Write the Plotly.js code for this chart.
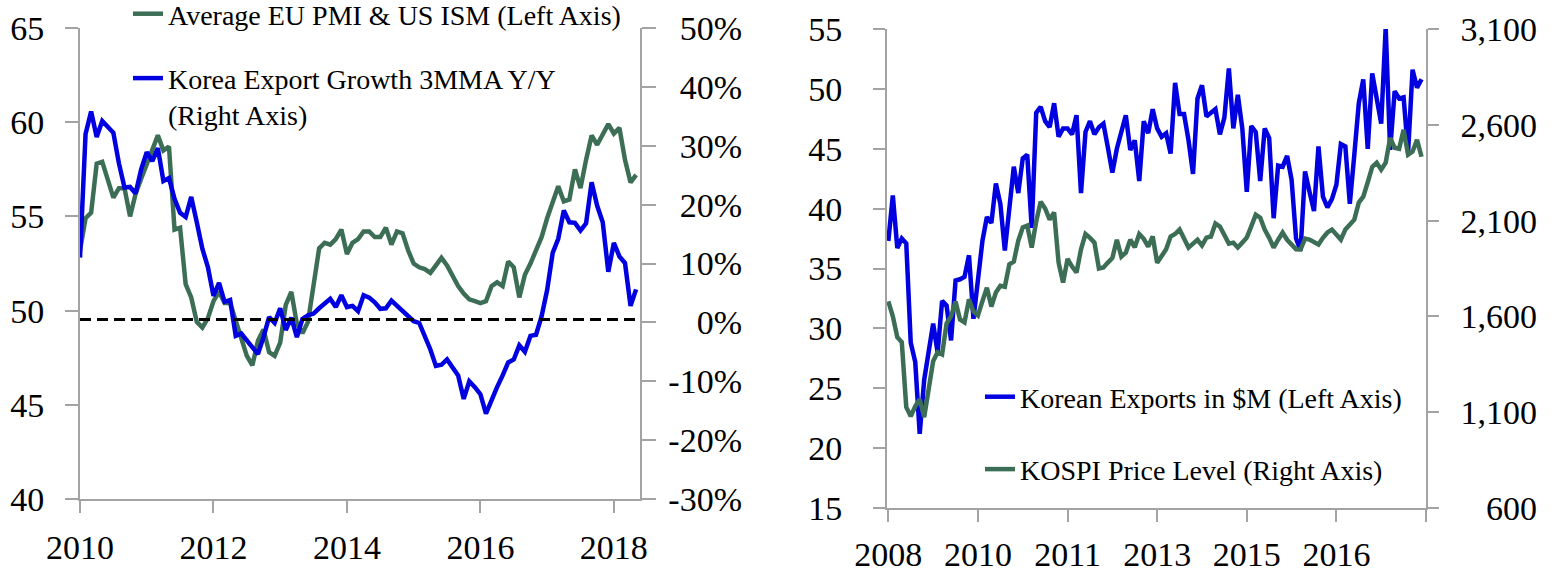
<!DOCTYPE html>
<html>
<head>
<meta charset="utf-8">
<script src="https://cdn.plot.ly/plotly-3.0.1.min.js"></script>
<style>
  html, body { margin: 0; padding: 0; background: #fff; }
  #chart { width: 1558px; height: 573px; }
</style>
</head>
<body>
<div id="chart"></div>
<script>
// ---------- Left chart: Jan 2010 – May 2018, monthly ----------
const leftMonths = [];            // month index from Jan 2010
const pmiAvg = [
  53.2, 54.9, 55.2, 57.8, 57.9, 56.9, 56.0, 56.5, 56.5, 55.0, 56.2, 57.0,
  57.8, 58.5, 59.3, 58.5, 58.7, 54.3, 54.4, 51.4, 50.7, 49.4, 49.1, 49.6,
  50.5, 51.0, 50.4, 50.4, 49.5, 48.6, 47.6, 47.1, 48.4, 49.0, 47.8, 47.6,
  48.3, 50.3, 51.0, 49.3, 48.8, 49.4, 51.5, 53.3, 53.6, 53.5, 53.8, 54.3,
  53.0, 53.6, 53.8, 54.2, 54.2, 53.9, 53.9, 54.4, 53.5, 54.2, 54.1, 53.2,
  52.5, 52.3, 52.2, 52.0, 52.4, 52.8, 52.4, 51.8, 51.3, 50.9, 50.6, 50.5,
  50.4, 50.5, 51.3, 51.5, 51.3, 52.6, 52.3, 50.7, 51.9, 52.5, 53.2, 53.9,
  54.9, 55.8, 56.6, 55.8, 55.9, 57.5, 56.5, 58.0, 59.3, 58.8, 59.3, 59.9,
  59.4, 59.7, 58.0, 56.8, 57.2
];
const koreaExportGrowth = [
  11.0, 32.0, 35.8, 31.5, 34.2, 33.2, 32.2, 27.0, 22.9, 23.0, 21.9, 26.0,
  28.9, 27.4, 29.6, 24.0, 24.5, 21.0, 18.6, 17.9, 21.3, 17.0, 12.5, 9.4,
  4.5, 6.7, 3.5, 3.8, -2.3, -1.9, -3.0, -4.3, -5.4, -2.5, 0.9, -0.1,
  2.4, -1.3, 0.8, -2.5, 0.6, 1.2, 1.5, 2.4, 3.2, 4.0, 2.6, 4.6,
  2.6, 2.8, 1.9, 4.6, 4.2, 3.4, 2.3, 2.4, 3.7, 2.8, 1.9, 1.0,
  0.2, -0.1, -2.3, -4.6, -7.4, -7.2, -6.3, -7.5, -9.0, -13.0, -10.0, -11.0,
  -12.2, -15.5, -13.0, -11.0, -9.0, -6.8, -6.3, -3.9, -5.0, -2.3, -2.1, 1.0,
  5.5, 11.8, 14.2, 19.0, 17.0, 16.9, 15.6, 16.8, 23.8, 19.8, 17.0, 8.6,
  13.5, 11.2, 10.1, 2.8, 5.6
];
for (let i = 0; i < pmiAvg.length; i++) leftMonths.push(i);
const leftTickVals = [0, 24, 48, 72, 96];
const leftTickText = ['2010', '2012', '2014', '2016', '2018'];
const pmiTicks = [40, 45, 50, 55, 60, 65];
const growthTickVals = [-30, -20, -10, 0, 10, 20, 30, 40, 50];
const growthTickText = ['-30%', '-20%', '-10%', '0%', '10%', '20%', '30%', '40%', '50%'];
const zeroLineX = [0, 100.7];
const zeroLineY = [0.5, 0.5];

// ---------- Right chart: Jun 2008 – May 2018, monthly ----------
const rightMonths = [];           // month index from Jun 2008
const koreanExports = [
  37.3, 41.1, 36.7, 37.5, 37.1, 28.8, 27.2, 21.2, 25.7, 28.1, 30.4, 28.0,
  32.3, 31.9, 29.0, 34.0, 34.1, 34.3, 36.1, 30.8, 34.0, 37.3, 39.3, 38.8,
  42.1, 40.4, 36.5, 40.5, 43.5, 41.3, 44.2, 44.5, 38.4, 48.0, 48.5, 47.3,
  46.8, 48.8, 46.0, 46.7, 46.7, 46.2, 47.8, 41.3, 46.4, 47.3, 46.2, 46.8,
  47.1, 45.1, 43.0, 45.0, 46.6, 47.8, 44.9, 45.7, 42.3, 47.3, 46.3, 48.3,
  46.7, 46.0, 46.3, 44.6, 50.5, 47.9, 47.9, 45.7, 42.9, 49.2, 50.3, 47.7,
  48.0, 48.3, 46.2, 47.6, 51.7, 46.7, 49.5, 46.7, 41.4, 46.9, 46.4, 42.3,
  46.7, 45.9, 39.2, 43.6, 43.5, 44.4, 42.4, 37.5, 36.5, 43.1, 41.4, 39.8,
  45.2, 41.0, 40.1, 40.8, 42.0, 45.4, 45.2, 40.4, 44.5, 48.8, 50.8, 45.0,
  51.3, 49.2, 47.1, 55.1, 44.9, 49.8, 49.2, 49.3, 44.7, 51.6, 50.1, 50.8
];
const kospiLevel = [
  1678, 1600, 1491, 1465, 1126, 1079, 1131, 1168, 1074, 1220, 1366, 1413,
  1402, 1564, 1600, 1678, 1584, 1569, 1689, 1626, 1605, 1680, 1750, 1652,
  1725, 1760, 1755, 1871, 1886, 1995, 2064, 2074, 1959, 2095, 2199, 2163,
  2105, 2142, 1880, 1777, 1900, 1860, 1829, 1950, 2030, 2010, 1985, 1850,
  1855, 1881, 1905, 2000, 1912, 1933, 2000, 1961, 2030, 2005, 1964, 2017,
  1880, 1915, 1950, 2017, 2030, 2053, 2011, 1959, 1980, 2000, 1970, 2011,
  2017, 2085, 2069, 2020, 1980, 1985, 1960, 1985, 2011, 2070, 2131, 2115,
  2053, 2010, 1959, 2000, 2038, 2000, 1975, 1950, 1949, 2006, 2001, 1990,
  1975, 2010, 2038, 2053, 2030, 2001, 2053, 2080, 2105, 2194, 2225, 2300,
  2380, 2402, 2366, 2402, 2532, 2480, 2475, 2574, 2444, 2460, 2522, 2433
];
for (let i = 0; i < koreanExports.length; i++) rightMonths.push(i);
const rightTickVals = [0, 20, 40, 60, 80, 100, 120];
const rightTickText = ['2008', '2010', '2011', '2013', '2015', '2016', ''];
const exportTicks = [15, 20, 25, 30, 35, 40, 45, 50, 55];
const kospiTickVals = [600, 1100, 1600, 2100, 2600, 3100];
const kospiTickText = ['600', '1,100', '1,600', '2,100', '2,600', '3,100'];

// ---------- styling ----------
const W = 1558, H = 573;
const px = v => v / W;
const py = v => 1 - v / H;
const BLUE = '#0000e0';
const GREEN = '#3c6e56';
const AXIS = '#a3a3a3';
const FONT = 'Liberation Serif, Times New Roman, serif';
const tickFont = { family: FONT, size: 34, color: '#000' };

const traces = [
  { x: leftMonths, y: pmiAvg, xaxis: 'x', yaxis: 'y', type: 'scatter', mode: 'lines',
    name: 'Average EU PMI & US ISM (Left Axis)', line: { color: GREEN, width: 4.5 },
    legend: 'legend', legendgroup: 'a', hoverinfo: 'skip' },
  { x: leftMonths, y: koreaExportGrowth, xaxis: 'x', yaxis: 'y2', type: 'scatter', mode: 'lines',
    name: 'Korea Export Growth 3MMA Y/Y<br>(Right Axis)', line: { color: BLUE, width: 4.5 },
    legend: 'legend', legendgroup: 'b', hoverinfo: 'skip' },
  { x: zeroLineX, y: zeroLineY, xaxis: 'x', yaxis: 'y5', type: 'scatter', mode: 'lines',
    showlegend: false, line: { color: '#000', width: 3, dash: '11px,6px' }, hoverinfo: 'skip' },
  { x: rightMonths, y: koreanExports, xaxis: 'x2', yaxis: 'y3', type: 'scatter', mode: 'lines',
    name: 'Korean Exports in $M (Left Axis)', line: { color: BLUE, width: 4.5 },
    legend: 'legend2', legendgroup: 'c', hoverinfo: 'skip' },
  { x: rightMonths, y: kospiLevel, xaxis: 'x2', yaxis: 'y4', type: 'scatter', mode: 'lines',
    name: 'KOSPI Price Level (Right Axis)', line: { color: GREEN, width: 4.5 },
    legend: 'legend2', legendgroup: 'd', hoverinfo: 'skip' },
  { x: [], y: [], xaxis: 'x2', yaxis: 'y6', type: 'scatter', mode: 'lines',
    showlegend: false, hoverinfo: 'skip' }
];

const baseAxis = {
  showgrid: false, zeroline: false, showline: true, linecolor: AXIS, linewidth: 2,
  ticks: 'outside', tickcolor: AXIS, tickwidth: 2, tickfont: tickFont, fixedrange: true
};

const layout = {
  width: W, height: H,
  margin: { l: 0, r: 0, t: 0, b: 0, autoexpand: false },
  paper_bgcolor: '#fff', plot_bgcolor: 'rgba(0,0,0,0)',
  showlegend: true,
  xaxis: Object.assign({}, baseAxis, {
    domain: [px(80), px(640)], anchor: 'y', range: [0, 100.7],
    tickmode: 'array', tickvals: leftTickVals, ticktext: leftTickText,
    ticklen: 12, ticklabelstandoff: 5
  }),
  yaxis: Object.assign({}, baseAxis, {
    domain: [py(499), py(28)], anchor: 'x', range: [40, 65],
    tickmode: 'array', tickvals: pmiTicks, ticklen: 13, ticklabelstandoff: 14
  }),
  yaxis2: Object.assign({}, baseAxis, {
    overlaying: 'y', side: 'right', anchor: 'x', range: [-30, 50],
    tickmode: 'array', tickvals: growthTickVals, showticklabels: false, ticklen: 14
  }),
  yaxis5: {
    overlaying: 'y', side: 'left', anchor: 'free', position: px(742), range: [-30, 50],
    tickmode: 'array', tickvals: growthTickVals, ticktext: growthTickText,
    showgrid: false, zeroline: false, showline: false, ticks: '', tickfont: tickFont,
    fixedrange: true
  },
  xaxis2: Object.assign({}, baseAxis, {
    domain: [px(887), px(1426)], anchor: 'y3', range: [-0.3, 120],
    tickmode: 'array', tickvals: rightTickVals, ticktext: rightTickText,
    ticklen: 12, ticklabelstandoff: 3
  }),
  yaxis3: Object.assign({}, baseAxis, {
    domain: [py(508), py(29)], anchor: 'x2', range: [15, 55],
    tickmode: 'array', tickvals: exportTicks, ticklen: 12, ticklabelstandoff: 24
  }),
  yaxis4: Object.assign({}, baseAxis, {
    overlaying: 'y3', side: 'right', anchor: 'x2', range: [600, 3100],
    tickmode: 'array', tickvals: kospiTickVals, showticklabels: false, ticklen: 11
  }),
  yaxis6: {
    overlaying: 'y3', side: 'left', anchor: 'free', position: px(1537), range: [600, 3100],
    tickmode: 'array', tickvals: kospiTickVals, ticktext: kospiTickText,
    showgrid: false, zeroline: false, showline: false, ticks: '', tickfont: tickFont,
    fixedrange: true
  },
  legend: {
    x: px(128), y: py(-11), xanchor: 'left', yanchor: 'top',
    font: { family: FONT, size: 28, color: '#000' }, bgcolor: 'rgba(0,0,0,0)',
    traceorder: 'grouped', tracegroupgap: 25, valign: 'top', itemwidth: 30
  },
  legend2: {
    x: px(980), y: py(372), xanchor: 'left', yanchor: 'top',
    font: { family: FONT, size: 28, color: '#000' }, bgcolor: 'rgba(0,0,0,0)',
    traceorder: 'grouped', tracegroupgap: 33, valign: 'top', itemwidth: 30
  }
};

Plotly.newPlot('chart', traces, layout, { staticPlot: true, displayModeBar: false });
</script>
</body>
</html>
